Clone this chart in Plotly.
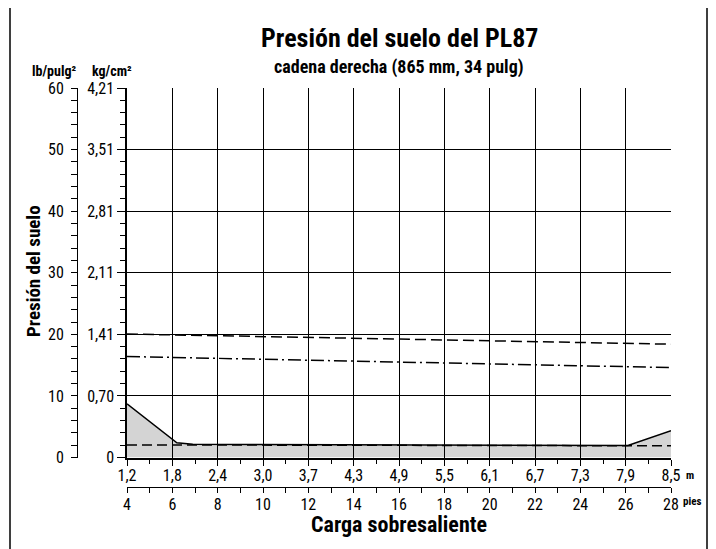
import plotly.graph_objects as go

# ---------------- data ----------------
# x in feet (pies), y in lb/pulg2
pies_ticks = [4, 6, 8, 10, 12, 14, 16, 18, 20, 22, 24, 26, 28]
m_labels = ["1,2", "1,8", "2,4", "3,0", "3,7", "4,3", "4,9", "5,5", "6,1", "6,7", "7,3", "7,9", "8,5"]
lb_ticks = [0, 10, 20, 30, 40, 50, 60]
kg_labels = ["0", "0,70", "1,41", "2,11", "2,81", "3,51", "4,21"]

area_x = [4, 6.2, 6.9, 26.1, 28]
area_y = [8.7, 2.4, 2.15, 1.95, 4.35]

low_dash_x = [4, 28]
low_dash_y = [2.05, 1.9]

upper_x = [4, 28]
dashed_y = [20.05, 18.4]
dashdot_y = [16.4, 14.6]

FONT = "Roboto Condensed, Liberation Sans Narrow, Roboto, sans-serif"
W, H = 716, 549
OFF = 8  # page body margin

def px(x):
    return (x - OFF) / W

def py(y):
    return 1 - (y - OFF) / H

fig = go.Figure()

fig.add_trace(go.Scatter(
    x=area_x, y=area_y, mode="lines", fill="tozeroy",
    fillcolor="rgba(0,0,0,0.17)", line=dict(color="black", width=1.5),
    xaxis="x", yaxis="y", hoverinfo="skip", showlegend=False))
fig.add_trace(go.Scatter(
    x=low_dash_x, y=low_dash_y, mode="lines",
    line=dict(color="black", width=1.5, dash="10px,5px"),
    xaxis="x", yaxis="y", hoverinfo="skip", showlegend=False))
fig.add_trace(go.Scatter(
    x=upper_x, y=dashed_y, mode="lines",
    line=dict(color="black", width=1.5, dash="11px,5px"),
    xaxis="x2", yaxis="y2", hoverinfo="skip", showlegend=False))
fig.add_trace(go.Scatter(
    x=upper_x, y=dashdot_y, mode="lines",
    line=dict(color="black", width=1.5, dash="13px,4px,2px,4px"),
    xaxis="x2", yaxis="y2", hoverinfo="skip", showlegend=False))

tickfont = dict(family=FONT, size=16, color="black")

fig.update_layout(
    width=W, height=H,
    margin=dict(l=0, r=0, t=0, b=0, autoexpand=False),
    paper_bgcolor="white", plot_bgcolor="white",
    font=dict(family=FONT, color="black"),
    xaxis=dict(
        domain=[px(127), px(671)], range=[4, 28],
        tickmode="array", tickvals=pies_ticks, ticktext=m_labels,
        ticks="outside", ticklen=6, tickwidth=1, tickcolor="black",
        minor=dict(tickvals=list(range(5, 28, 2)), ticks="outside", ticklen=4, tickcolor="black", showgrid=False),
        showline=True, linewidth=2, linecolor="black",
        showgrid=True, gridcolor="black", gridwidth=1,
        zeroline=False, tickfont=tickfont, anchor="y", ticklabelstandoff=-4,
    ),
    xaxis2=dict(
        overlaying="x", anchor="free", position=py(487.3), side="bottom",
        range=[4, 28], tickmode="array", tickvals=pies_ticks,
        ticktext=[str(v) for v in pies_ticks],
        ticks="outside", ticklen=5, tickwidth=1, tickcolor="black",
        minor=dict(tickvals=list(range(5, 28, 2)), ticks="outside", ticklen=5, tickcolor="black", showgrid=False),
        showline=True, linewidth=1, linecolor="black",
        showgrid=False, zeroline=False, tickfont=tickfont, ticklabelstandoff=-3,
    ),
    yaxis=dict(
        domain=[py(457.5), py(88)], range=[0, 60],
        tickmode="array", tickvals=lb_ticks, ticktext=kg_labels,
        ticks="outside", ticklen=8, tickwidth=1, tickcolor="black",
        minor=dict(tickvals=[v for v in range(0, 61, 2) if v % 10], ticks="outside", ticklen=5, tickcolor="black", showgrid=False),
        showline=True, linewidth=1.5, linecolor="black",
        showgrid=True, gridcolor="black", gridwidth=1,
        zeroline=False, tickfont=tickfont, anchor="x",
    ),
    yaxis2=dict(
        overlaying="y", anchor="free", position=px(77), side="left",
        range=[0, 60], tickmode="array", tickvals=lb_ticks,
        ticktext=[str(v) for v in lb_ticks],
        ticks="outside", ticklen=6, tickwidth=1, tickcolor="black",
        minor=dict(tickvals=[v for v in range(0, 61, 2) if v % 10], ticks="outside", ticklen=6, tickcolor="black", showgrid=False),
        showline=True, linewidth=1, linecolor="black",
        showgrid=False, zeroline=False, tickfont=tickfont, ticklabelstandoff=4,
    ),
)

ann = [
    dict(text="<b>Presión del suelo del PL87</b>", x=px(399), y=py(38), size=26),
    dict(text="<b>cadena derecha (865 mm, 34 pulg)</b>", x=px(399), y=py(67), size=18),
    dict(text="<b>lb/pulg²</b>", x=px(54), y=py(71), size=14),
    dict(text="<b>kg/cm²</b>", x=px(112), y=py(71), size=14),
    dict(text="<b>Carga sobresaliente</b>", x=px(399), y=py(524), size=22),
    dict(text="<b>m</b>", x=px(690), y=py(476), size=11),
    dict(text="<b>pies</b>", x=px(692), y=py(501), size=11),
]
for a in ann:
    fig.add_annotation(text=a["text"], x=a["x"], y=a["y"], xref="paper", yref="paper",
                       showarrow=False, xanchor="center", yanchor="middle",
                       font=dict(family=FONT, size=a["size"], color="black"))

fig.add_annotation(text="<b>Presión del suelo</b>", x=px(34), y=py(271), xref="paper", yref="paper",
                   showarrow=False, textangle=-90, xanchor="center", yanchor="middle",
                   font=dict(family=FONT, size=19, color="black"))

# outer frame
fig.add_shape(type="rect", xref="paper", yref="paper",
              x0=px(10), x1=px(707), y0=-0.05, y1=py(7),
              line=dict(color="black", width=1.5), fillcolor="rgba(0,0,0,0)", layer="below")

fig.write_html("out.html")
